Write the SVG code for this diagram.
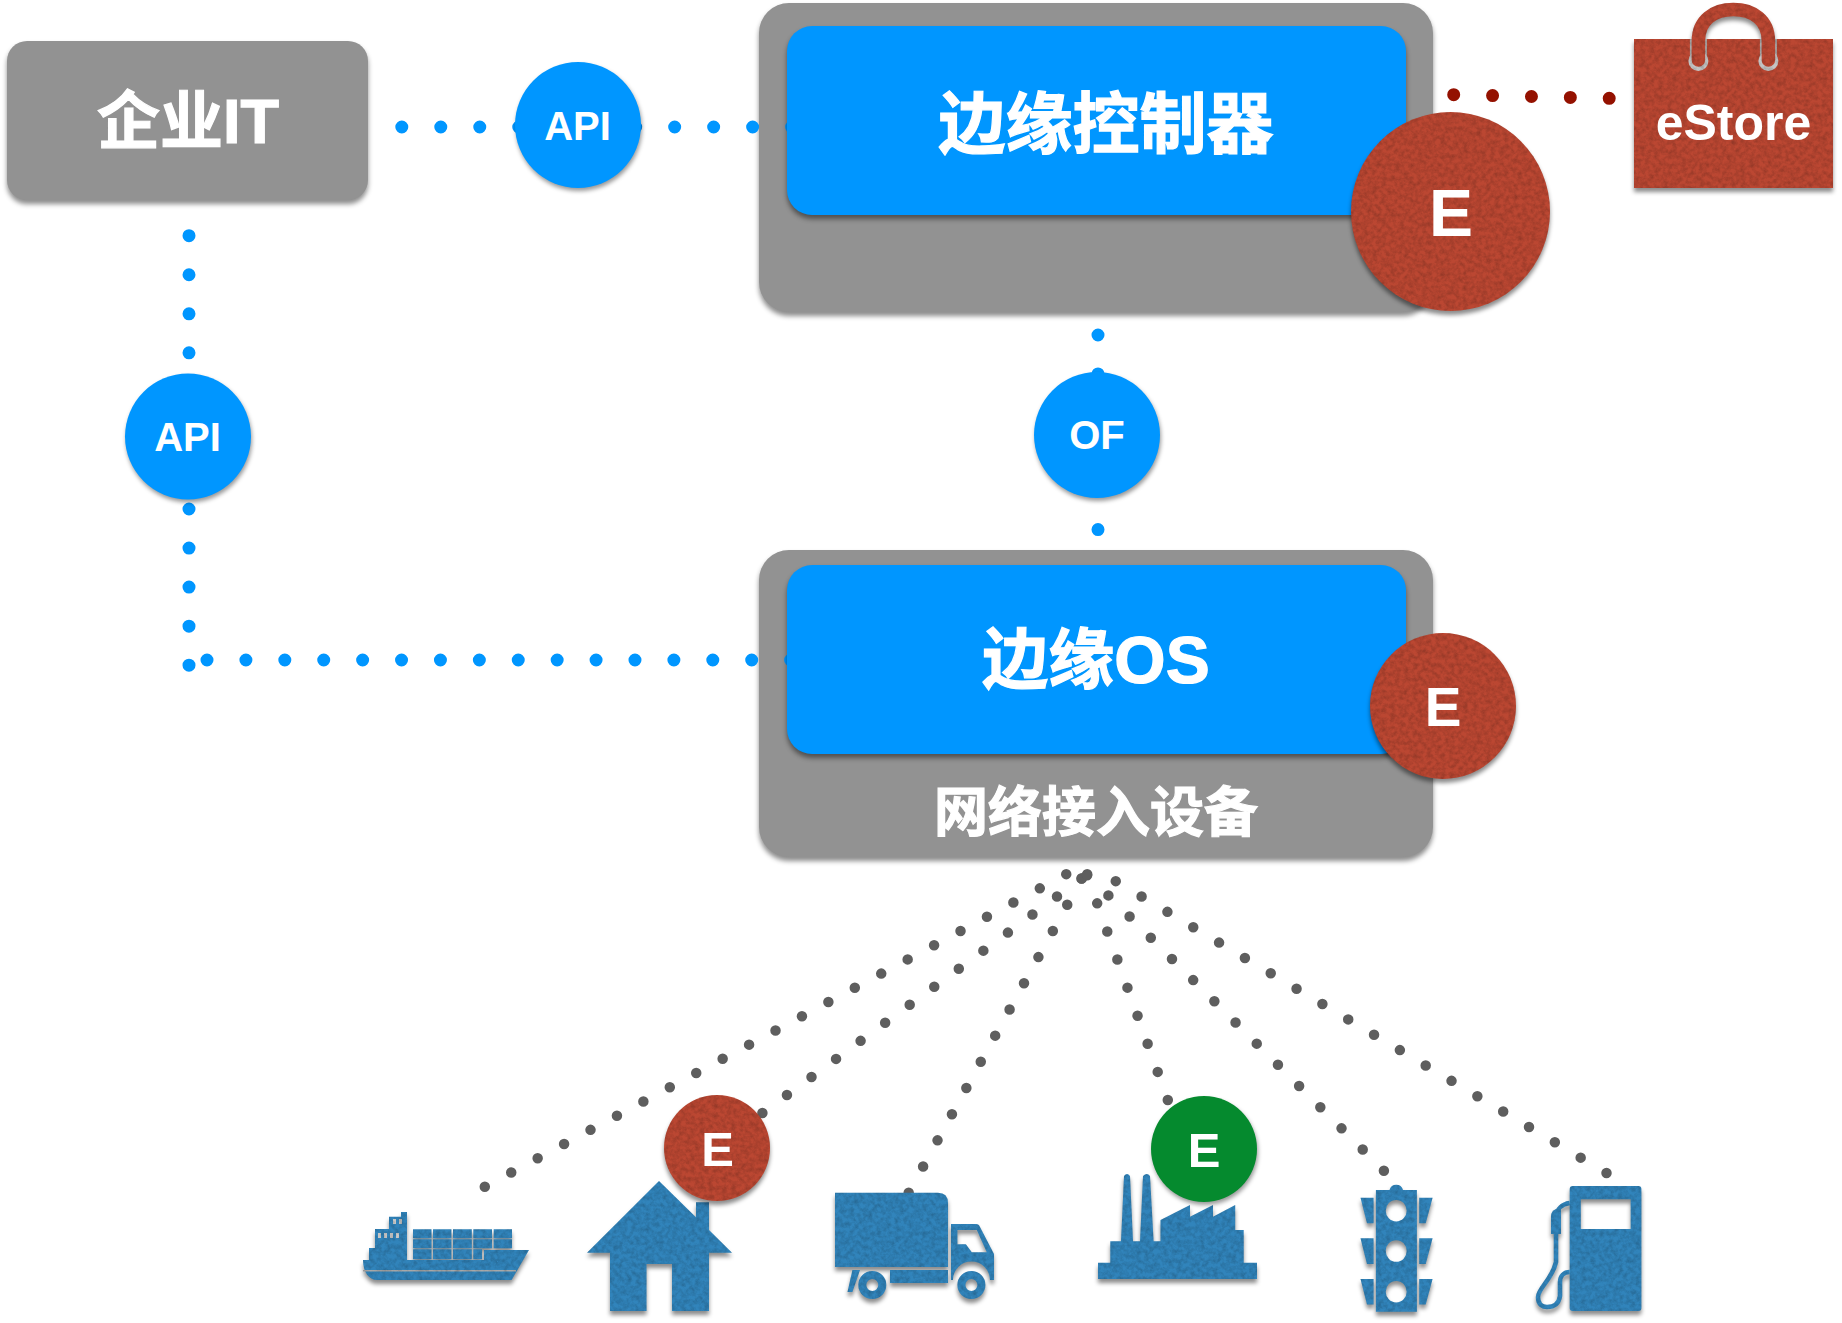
<svg xmlns="http://www.w3.org/2000/svg" width="1842" height="1323" viewBox="0 0 1842 1323">
<style>
.t{font-family:"Liberation Sans","Noto Sans CJK SC",sans-serif;font-weight:700;fill:#fff;text-anchor:middle}
.h{stroke:#fff;stroke-width:1.2}
.gray{fill:#929292;filter:url(#shadow)}
.blue{fill:#0096FF;filter:url(#shadow)}
.bub{fill:#0096FF;filter:url(#soft)}
.red{fill:#BB4732}
.felt{filter:url(#felt)}
.icon{fill:#3184BB;filter:url(#felt)}
.dot{fill:none;stroke-linecap:round;stroke-dasharray:0 1}
.b{stroke:#0096FF;stroke-width:13}
.k{stroke:#5E5E5E;stroke-width:10.5}
.r{stroke:#941100;stroke-width:13}
</style>
<defs>
<filter id="shadow" x="-5%" y="-5%" width="110%" height="112%" color-interpolation-filters="sRGB">
<feDropShadow dx="0" dy="4" stdDeviation="2.5" flood-color="#000" flood-opacity="0.45"/>
</filter>
<filter id="soft" x="-10%" y="-10%" width="120%" height="125%" color-interpolation-filters="sRGB">
<feDropShadow dx="1" dy="3" stdDeviation="2" flood-color="#000" flood-opacity="0.4"/>
</filter>
<filter id="felt" x="-10%" y="-10%" width="120%" height="125%" color-interpolation-filters="sRGB">
<feTurbulence type="fractalNoise" baseFrequency="0.22" numOctaves="4" seed="7" result="n"/>
<feColorMatrix in="n" type="matrix" values="0 0 0 0 0 0 0 0 0 0 0 0 0 0 0 0.35 0 0 0 -0.12" result="m"/>
<feComposite in="m" in2="SourceAlpha" operator="in" result="tex"/>
<feGaussianBlur in="SourceAlpha" stdDeviation="2.2" result="bl"/>
<feOffset in="bl" dy="4" result="off"/>
<feFlood flood-color="#000" flood-opacity="0.45"/>
<feComposite in2="off" operator="in" result="sh"/>
<feMerge><feMergeNode in="sh"/><feMergeNode in="SourceGraphic"/><feMergeNode in="tex"/></feMerge>
</filter>
</defs>

<g id="node-controller-shell"><rect class="gray" x="759" y="3" width="674" height="309" rx="30"/></g>
<g id="node-access-device-shell"><rect class="gray" x="759" y="550" width="674" height="307" rx="30"/></g>

<g id="connectors">
<path class="dot b" pathLength="10.01" d="M401.800 127H792"/>
<path class="dot b" pathLength="11.01" d="M189 235.700V665.600"/>
<path class="dot b" pathLength="15.01" d="M207 660H791"/>
<path class="dot b" pathLength="5.01" d="M1098 335V530"/>
<path class="dot r" pathLength="4.01" d="M1453.700 94.700L1609.600 98.300"/>
<path class="dot k" pathLength="22.01" d="M484.800 1186.700L1066.500 874"/>
<path class="dot k" pathLength="13.01" d="M762.400 1113L1081.800 878.300"/>
<path class="dot k" pathLength="12.01" d="M908.700 1192.700L1081.800 878.300"/>
<path class="dot k" pathLength="8.01" d="M1167.800 1100L1087 875"/>
<path class="dot k" pathLength="14.01" d="M1383.900 1170.700L1087 874"/>
<path class="dot k" pathLength="19.01" d="M1606.500 1173L1115.500 881"/>
</g>

<g id="node-enterprise-it">
<rect class="gray" x="7" y="41" width="361" height="159" rx="20"/>
<text class="t h" x="188" y="143" font-size="63">企业IT</text>
</g>
<g id="node-api-top">
<circle class="bub" cx="578" cy="125" r="63"/>
<text class="t" x="577.500" y="140" font-size="40">API</text>
</g>
<g id="node-api-left">
<circle class="bub" cx="188" cy="436.500" r="63"/>
<text class="t" x="187.500" y="451" font-size="40">API</text>
</g>
<g id="node-of">
<circle class="bub" cx="1097" cy="435" r="63"/>
<text class="t" x="1097" y="449" font-size="40">OF</text>
</g>
<g id="node-controller">
<rect class="blue" x="787" y="26" width="619" height="189" rx="25"/>
<text class="t h" x="1106" y="148" font-size="67">边缘控制器</text>
</g>
<g id="node-controller-e">
<circle class="red felt" cx="1450.500" cy="211.500" r="99.500"/>
<text class="t" x="1451" y="236" font-size="66">E</text>
</g>
<g id="node-edge-os">
<rect class="blue" x="787" y="565" width="619" height="189" rx="25"/>
<text class="t h" x="1096" y="683" font-size="66">边缘OS</text>
</g>
<g id="node-edge-os-e">
<circle class="red felt" cx="1443" cy="706" r="73"/>
<text class="t" x="1443" y="726" font-size="55">E</text>
</g>
<g id="node-access-device">
<text class="t h" x="1096" y="832" font-size="54">网络接入设备</text>
</g>
<g id="node-estore">
<g class="felt">
<rect class="red" x="1634" y="39" width="199" height="149"/>
<path d="M1698.400 39V61M1768.400 39V61" fill="none" stroke="#A9A9A9" stroke-width="17"/>
<circle cx="1698.400" cy="61" r="10" fill="#C4C4C4"/>
<circle cx="1768.400" cy="61" r="10" fill="#C4C4C4"/>
<path d="M1698.400 60V41C1698.400 20 1714 9.500 1733.400 9.500S1768.400 20 1768.400 41V60" fill="none" stroke="#BB4732" stroke-width="13.500" stroke-linecap="round"/>
</g>
<text class="t" x="1733.500" y="139.500" font-size="50">eStore</text>
</g>

<g id="node-ship" class="icon">
<path d="M363 1260H484Q484 1258 484 1250H529L511.600 1280H377C369 1280 363 1272 363 1260Z"/>
<path d="M369 1260V1248H375V1229H389V1216.700H401V1212H407V1260Z"/>
<path d="M413 1229.300h18.500v9h-18.500zM433 1229.300h18.400v9H433zM453 1229.300h18.800v9H453zM473.300 1229.300H492v9h-18.700zM493.700 1229.300H512v9h-18.300zM413 1239.300h18.500v9h-18.500zM433 1239.300h18.400v9H433zM453 1239.300h18.800v9H453zM473.300 1239.300H492v9h-18.700zM493.700 1239.300H512v9h-18.300zM413 1249.300h18.500v10h-18.500zM433 1249.300h18.400v10H433zM453 1249.300h18.800v10H453zM473.300 1249.300H482v10h-8.700z"/>
<path d="M363 1270H516V1271.500H363Z" fill="#A8A8A8"/>
<path d="M378 1233h3v5h-3zM384 1233h3v5h-3zM390 1233h3v5h-3zM396 1233h3v5h-3zM393 1219h3v5h-3zM399 1219h3v5h-3z" fill="#C8C8C8"/>
</g>
<g id="node-house" class="icon">
<path fill-rule="evenodd" d="M659 1181L696 1217.300V1202.300H709V1230L732 1252.700H709V1311H672V1264H646.500V1311H610V1252.700H587Z"/>
</g>
<g id="node-truck" class="icon">
<path d="M835 1192.700H938Q948 1192.700 948 1203V1267H835Z"/>
<path fill-rule="evenodd" d="M951 1224H976Q979 1224 980 1227L994 1254V1280H990A18.500 18.500 0 0 0 952.900 1280H951ZM957.400 1230V1244.300H965.900L971.800 1252.300H986.800L976.800 1230Z"/>
<path fill-rule="evenodd" d="M957.400 1285a14 14 0 1 0 28 0a14 14 0 1 0 -28 0ZM965.400 1285a6 6 0 1 0 12 0a6 6 0 1 0 -12 0Z"/>
<path fill-rule="evenodd" d="M858.300 1285a14 14 0 1 0 28 0a14 14 0 1 0 -28 0ZM866.300 1285a6 6 0 1 0 12 0a6 6 0 1 0 -12 0Z"/>
<path d="M890 1270H948V1283H890ZM852.400 1270H860L852.400 1292H847.500Z"/>
</g>
<g id="node-factory" class="icon">
<path d="M1098 1279V1262.700H1110.300V1241.300H1121L1124 1176Q1127 1172 1130 1176L1133 1241.300H1140L1143 1176Q1147 1172 1150 1176L1153.600 1241.300H1160.500V1220L1190 1205V1216.700L1213 1205V1216.700L1235.200 1205V1230H1243.700V1262.700H1257V1279Z"/>
</g>
<g id="node-traffic-light" class="icon">
<path fill-rule="evenodd" d="M1375.900 1190H1389.500A7 7 0 0 1 1403 1190H1416.900V1311.700H1375.900ZM1385.700 1210.700a10.500 10.800 0 1 0 21 0a10.500 10.800 0 1 0 -21 0ZM1385.700 1251a10.500 10.800 0 1 0 21 0a10.500 10.800 0 1 0 -21 0ZM1385.700 1291.700a10.500 10.800 0 1 0 21 0a10.500 10.800 0 1 0 -21 0Z"/>
<path d="M1360.500 1197.700H1373.600V1223.300H1367ZM1360.500 1238.300H1373.600V1264H1367ZM1360.500 1279H1373.600V1304.600H1367ZM1432.600 1197.700H1419.200V1223.300H1425.700ZM1432.600 1238.300H1419.200V1264H1425.700ZM1432.600 1279H1419.200V1304.600H1425.700Z"/>
</g>
<g id="node-pump" class="icon">
<path fill-rule="evenodd" d="M1572.700 1186H1638.400Q1641.400 1186 1641.400 1189V1308Q1641.400 1311 1638.400 1311H1572.700Q1569.700 1311 1569.700 1308V1189Q1569.700 1186 1572.700 1186ZM1580.800 1199.300V1229H1630.700V1199.300Z"/>
<path d="M1569.700 1203C1562 1204 1557 1209 1556 1216V1262C1552 1280 1538 1288 1538 1297C1538 1305 1543 1307 1547 1307C1555 1307 1559 1303 1560 1296V1282C1560 1276 1564 1272 1569.700 1272" fill="none" stroke="#3184BB" stroke-width="4.500"/>
<path d="M1551 1216Q1551 1211 1556 1209H1561V1234H1551Z"/>
</g>
<g id="node-device-e-red">
<circle class="red felt" cx="717" cy="1148" r="53"/>
<text class="t" x="717.500" y="1166" font-size="49">E</text>
</g>
<g id="node-device-e-green">
<circle cx="1204" cy="1149" r="53" fill="#058A2E" filter="url(#soft)"/>
<text class="t" x="1204" y="1167" font-size="49">E</text>
</g>
</svg>
